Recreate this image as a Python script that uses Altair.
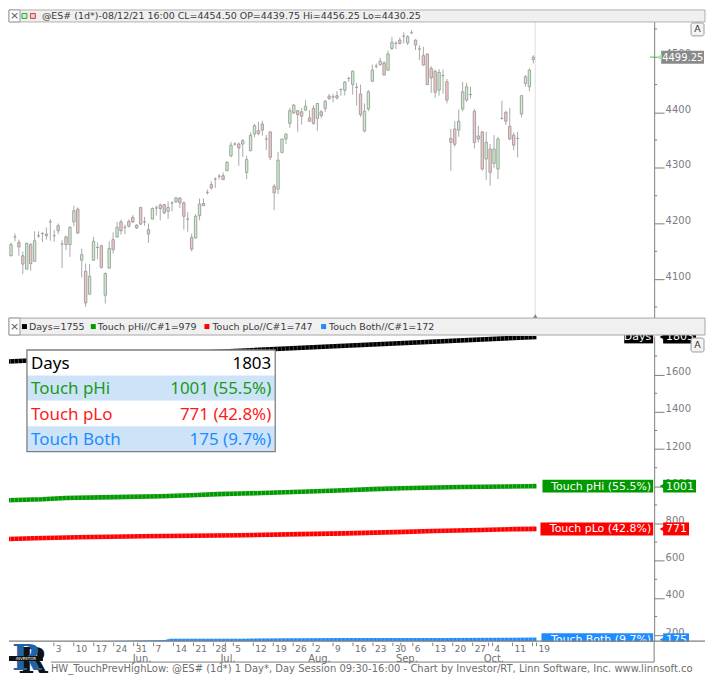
import altair as alt
import pandas as pd

FONT = "DejaVu Sans"

# ---------------- price candles (weekday index 0 = 2021-04-14 ... 134 = 2021-10-19) ----------------
opens = [4132, 4142, 4176, 4166, 4142, 4118, 4162, 4132, 4178, 4182,
         4181, 4203, 4178, 4196, 4163, 4176, 4162, 4203, 4226, 4134,
         4114, 4073, 4134, 4157, 4160, 4071, 4120, 4171, 4176, 4203,
         4193, 4204, 4211, 4197, 4229, 4203, 4189, 4208, 4228, 4233,
         4234, 4222, 4237, 4239, 4246, 4237, 4208, 4175, 4174, 4214,
         4236, 4256, 4270, 4280, 4285, 4286, 4295, 4322, 4343, 4343,
         4343, 4292, 4331, 4361, 4367, 4379, 4352, 4365, 4267, 4262,
         4328, 4352, 4380, 4399, 4403, 4401, 4404, 4390, 4407, 4389,
         4401, 4407, 4429, 4428, 4430, 4441, 4439.75, 4461, 4450, 4445,
         4433, 4366.5, 4406, 4456, 4483, 4486, 4489, 4476, 4515, 4524,
         4530, 4537, 4525, 4543, 4530, 4514, 4502, 4505, 4479, 4474,
         4440, 4466, 4455, 4353, 4370, 4368, 4406, 4422, 4432, 4402,
         4357.5, 4365, 4316, 4334, 4308, 4298, 4389, 4400, 4375, 4359,
         4353, 4397, 4452, 4446, 4495]
highs = [4142, 4166, 4182, 4171, 4150, 4166, 4165, 4186, 4186, 4185,
         4193, 4208, 4188, 4200, 4170, 4178, 4195, 4232, 4229, 4155,
         4128, 4127, 4176, 4166, 4162, 4112, 4168, 4184, 4203, 4207,
         4198, 4207, 4215, 4199, 4229, 4212, 4200, 4229, 4232, 4236,
         4235, 4240, 4240, 4248, 4247, 4240, 4221, 4182, 4217, 4245,
         4245, 4261, 4276, 4283, 4289, 4292, 4312, 4347, 4346, 4346,
         4352, 4322, 4364, 4379, 4383, 4385, 4359, 4365, 4271, 4329,
         4352, 4362, 4408, 4415, 4404, 4408, 4422, 4404, 4413, 4417,
         4404, 4422, 4433, 4433, 4438, 4443, 4456.25, 4464, 4475, 4453,
         4450, 4416, 4440, 4486, 4488, 4498, 4492, 4511, 4536, 4528,
         4535, 4544, 4539, 4548, 4531.5, 4521, 4518, 4506, 4483, 4477,
         4478, 4477, 4460, 4370, 4384, 4405, 4455, 4453, 4446, 4406,
         4376, 4365, 4365, 4343, 4359, 4356, 4421, 4403, 4408, 4364,
         4365, 4431, 4467, 4479, 4503]
lows = [4113, 4141, 4168, 4142, 4109, 4117, 4115, 4131, 4174, 4167,
        4171, 4169, 4167, 4181, 4120, 4152, 4140, 4195, 4181, 4103,
        4050, 4072, 4133, 4136, 4119, 4056, 4118, 4146, 4174, 4180,
        4181, 4193, 4201, 4190, 4197, 4196, 4165, 4208, 4214, 4206,
        4217, 4208, 4222, 4237, 4228, 4189, 4185, 4150, 4173, 4206,
        4232, 4252, 4261, 4264, 4279, 4279, 4295, 4319, 4340, 4304,
        4320, 4280, 4330, 4355, 4359, 4358, 4332, 4314, 4224, 4253,
        4326, 4343, 4372, 4397, 4365, 4378, 4403, 4383, 4378, 4367,
        4390, 4401, 4422, 4418, 4423, 4430, 4430.25, 4455, 4432, 4412,
        4392, 4364, 4402, 4455, 4479, 4484, 4466, 4475, 4512, 4514,
        4522, 4524, 4521, 4542, 4512, 4494, 4484, 4449, 4435, 4426,
        4430, 4434, 4416, 4295, 4338, 4356, 4402, 4419, 4425, 4335,
        4346, 4295, 4278.5, 4268, 4300, 4280, 4387, 4377, 4350, 4332,
        4319, 4391, 4446, 4438, 4488]
closes = [4120, 4162, 4176, 4158, 4127, 4164, 4128, 4169, 4178, 4182,
          4178, 4203, 4178, 4187, 4163, 4162, 4193, 4223, 4183, 4144,
          4057, 4105, 4168, 4157, 4121, 4110, 4155, 4153, 4193, 4187,
          4193, 4195, 4203, 4192, 4199, 4203, 4181, 4227, 4228, 4227,
          4219, 4229, 4237, 4246, 4237, 4213, 4208, 4154, 4213, 4235,
          4232, 4256, 4264, 4280, 4285, 4279, 4310, 4341, 4343, 4336,
          4349, 4315, 4359, 4376, 4362, 4368, 4352, 4319, 4255, 4314,
          4352, 4361, 4403, 4413, 4396, 4393, 4411, 4384, 4380, 4416,
          4394, 4420, 4425, 4428, 4426, 4441, 4454.5, 4461, 4474, 4445,
          4396, 4402, 4437, 4476, 4483, 4492, 4467, 4505, 4526, 4524,
          4524, 4537, 4536, 4543, 4521, 4514, 4485, 4450, 4462, 4436,
          4472, 4466, 4422, 4346, 4342.5, 4384, 4437, 4446, 4432, 4346,
          4352, 4298, 4346, 4292, 4334, 4352, 4389, 4384, 4352, 4341,
          4353, 4430, 4464, 4476, 4499.25]

# ---------------- cumulative counters of the lower pane (read at sample days) ----------------
days_idx = [0, 45, 86, 134]
days_val = [1669, 1714, 1755, 1803]
phi_idx = [0, 10, 16, 28, 40, 49, 54, 60, 75, 86, 93, 100, 115, 132, 134]
phi_val = [924, 930, 937, 942, 947, 953, 958, 961, 971, 979, 985, 990, 996, 1000, 1001]
plo_idx = [0, 8, 19, 35, 60, 75, 86, 101, 108, 120, 129, 134]
plo_val = [716, 721, 726, 732, 737, 743, 747, 755, 760, 765, 770, 771]
both_idx = [0, 30, 41, 42, 60, 86, 110, 128, 134]
both_val = [150, 158, 161, 168, 169, 172, 173, 174, 175]

series_names = ["Days", "Touch pHi", "Touch pLo", "Touch Both"]
series_colors = ["#000000", "#009a00", "#ff0000", "#1e8cff"]
table_colors = ["#000000", "#1a9a1a", "#ff1a1a", "#1e8cff"]

# ---------------- axes / labels ----------------
price_ticks = [4100, 4200, 4300, 4400, 4500]
price_minor = [4050, 4150, 4250, 4350, 4450, 4550]
count_ticks = [200, 400, 600, 800, 1000, 1200, 1400, 1600]
count_minor = [300, 500, 700, 900, 1100, 1300, 1500, 1700]
last_price = [4499.25]
cursor_idx = [134.5]

tick_idx = [13, 18, 23, 28, 33, 34, 38, 43, 48, 53, 56, 58, 63, 68, 73, 78, 83, 88, 93, 98,
            100, 103, 108, 113, 118, 122, 123, 128, 133, 134]
day_idx = [13, 18, 23, 28, 33, 38, 43, 48, 53, 58, 63, 68, 73, 78, 83, 88, 93, 98, 103, 108,
           113, 118, 123, 128, 134]
day_lbl = ["3", "10", "17", "24", "31", "7", "14", "21", "28", "5", "12", "19", "26", "2", "9",
           "16", "23", "30", "6", "13", "20", "27", "4", "11", "19"]
month_idx = [34, 56, 78, 100, 122]
month_lbl = ["Jun.", "Jul.", "Aug.", "Sep.", "Oct."]

header_top = "@ES# (1d*)-08/12/21 16:00 CL=4454.50 OP=4439.75 Hi=4456.25 Lo=4430.25"
legend_txt = ["Days=1755", "Touch pHi//C#1=979", "Touch pLo//C#1=747", "Touch Both//C#1=172"]
footer_txt = ("HW_TouchPrevHighLow: @ES# (1d*) 1 Day*, Day Session 09:30-16:00 - Chart by "
              "Investor/RT, Linn Software, Inc. www.linnsoft.com - 10/19/2021")

# ---------------- layout ----------------
W, HT, HB = 647, 310, 306
one = pd.DataFrame({"z": [0]})

xs = alt.Scale(domain=[1.75, 163.5], nice=False, zero=False)
X = alt.X("i:Q", scale=xs, axis=None)


def rect(x0, x1, y0, y1, **kw):
    return alt.Chart(one).mark_rect(**kw).encode(
        x=alt.value(x0), x2=alt.value(x1), y=alt.value(y0), y2=alt.value(y1))


def label(x, y, text, **kw):
    kw.setdefault("font", FONT)
    kw.setdefault("baseline", "middle")
    return alt.Chart(one).mark_text(**kw).encode(
        x=alt.value(x), y=alt.value(y), text=alt.value(text))


def hline(x0, x1, y, color="#7f7f7f", w=1):
    return alt.Chart(one).mark_rule(color=color, strokeWidth=w).encode(
        x=alt.value(x0), x2=alt.value(x1), y=alt.value(y))


def vline(x, y0, y1, color="#7f7f7f", w=1):
    return alt.Chart(one).mark_rule(color=color, strokeWidth=w).encode(
        x=alt.value(x), y=alt.value(y0), y2=alt.value(y1))


def right_axis(vals):
    return alt.Axis(orient="right", values=vals, format="d", tickSize=10, labelPadding=1,
                    labelBaseline="alphabetic", labelFont=FONT, labelFontSize=10,
                    labelColor="#7b7b86", domainColor="#7f7f7f", tickColor="#7f7f7f",
                    grid=False, title=None, labelOverlap=False, labelFlush=False, zindex=0)


# ================= TOP PANE =================
ys_top = alt.Scale(domain=[4028.1, 4584.2], nice=False, zero=False)
ax_top = right_axis(price_ticks)


def YT(f):
    return alt.Y(f, scale=ys_top, axis=ax_top)


cdf = pd.DataFrame({"i": list(range(len(opens))), "o": opens, "h": highs, "l": lows, "c": closes})
cdf["dir"] = ["up" if c >= o else "down" for o, c in zip(opens, closes)]

top_layers = [
    alt.Chart(pd.DataFrame({"i": cursor_idx})).mark_rule(color="#e9e9e9", strokeWidth=1.5).encode(x=X),
    alt.Chart(cdf).mark_rule(color="#a9a9a9", strokeWidth=1, clip=True).encode(
        x=X, y=YT("l:Q"), y2="h:Q"),
    alt.Chart(cdf).mark_bar(size=2.4, stroke="#9c9c9c", strokeWidth=0.9, clip=True).encode(
        x=X, y=YT("o:Q"), y2="c:Q",
        color=alt.Color("dir:N", scale=alt.Scale(domain=["up", "down"], range=["#c6f2c6", "#f4c6c6"]),
                        legend=None)),
    alt.Chart(pd.DataFrame({"p": price_minor})).mark_rule(color="#7f7f7f").encode(
        x=alt.value(W), x2=alt.value(W + 3), y=YT("p:Q")),
    alt.Chart(pd.DataFrame({"i": cursor_idx})).mark_point(
        shape="triangle-up", filled=True, size=32, color="#7f7f7f", opacity=1).encode(
        x=X, y=alt.value(307.5)),
]
lp = pd.DataFrame({"p": last_price, "t": ["%.2f" % v for v in last_price]})
top_layers += [
    alt.Chart(lp).mark_rule(color="#7cd87c", strokeWidth=1.5).encode(
        x=alt.value(W - 4), x2=alt.value(W), y=YT("p:Q")),
    alt.Chart(lp).mark_rect(color="#8a8a8a", yOffset=-6.5, y2Offset=6.5).encode(
        x=alt.value(W + 7), x2=alt.value(W + 50), y=YT("p:Q"), y2="p:Q"),
    alt.Chart(lp).mark_point(shape="triangle-left", filled=True, size=36, color="#a3eaa3",
                             opacity=1).encode(x=alt.value(W + 5), y=YT("p:Q")),
    alt.Chart(lp).mark_text(align="left", baseline="middle", font=FONT, fontSize=10,
                            color="white", dy=0.5).encode(
        x=alt.value(W + 8), y=YT("p:Q"), text="t:N"),
    # header bar
    rect(0, 698, 0, 12, color="#f0f0f0", stroke="#b0b0b0", strokeWidth=1),
    rect(0, 11, 0, 12, color="white", stroke="#9a9a9a", strokeWidth=1),
    label(5.5, 6, "×", align="center", fontSize=11, color="#555555"),
    rect(13, 18, 3.5, 8.5, color="#c6f2c6", stroke="#3e9e3e", strokeWidth=1),
    rect(21.5, 26.5, 3.5, 8.5, color="#f4c6c6", stroke="#c04646", strokeWidth=1),
    label(33, 6.5, header_top, align="left", fontSize=9.5, color="#3a3a3a"),
    # "A" button
    rect(W + 37, W + 50, 13, 26, color="#f4f4f4", stroke="#9a9a9a", strokeWidth=1, cornerRadius=2),
    label(W + 43.5, 19.5, "A", align="center", fontSize=9.5, color="#333333"),
]
top = alt.layer(*top_layers).properties(width=W, height=HT)

# ================= LOWER PANE =================
ys_bot = alt.Scale(domain=[167.8, 1807.7], nice=False, zero=False)
ax_bot = right_axis(count_ticks)


def YB(f):
    return alt.Y(f, scale=ys_bot, axis=ax_bot)


series_data = list(zip(series_names, [days_idx, phi_idx, plo_idx, both_idx],
                       [days_val, phi_val, plo_val, both_val], series_colors))

bot_layers = []
for name, idxs, vals, col in series_data:
    sdf = pd.DataFrame({"i": idxs, "v": vals})
    bot_layers.append(
        alt.Chart(sdf).mark_line(strokeWidth=4.6, color=col, clip=True).encode(x=X, y=YB("v:Q")))
    bot_layers.append(
        alt.Chart(sdf).mark_line(strokeWidth=4.6, color="white", opacity=0.35,
                                 strokeDash=[0.8, 3.2], clip=True).encode(x=X, y=YB("v:Q")))
bot_layers.append(
    alt.Chart(pd.DataFrame({"v": count_minor})).mark_rule(color="#7f7f7f").encode(
        x=alt.value(W), x2=alt.value(W + 3), y=YB("v:Q")))

finals = [days_val[-1], phi_val[-1], plo_val[-1], both_val[-1]]
total = days_val[-1]
pcts = [v / total * 100 for v in finals]
name_lbls = ["Days"] + ["%s (%.1f%%)" % (n, p) for n, p in zip(series_names[1:], pcts[1:])]
table_vals = [str(finals[0])] + ["%d (%.1f%%)" % (v, p) for v, p in zip(finals[1:], pcts[1:])]

name_x0 = [W - 30, W - 112, W - 114, W - 113]
val_w = [33, 33, 26, 26]
for k in range(4):
    d = pd.DataFrame({"v": [finals[k]], "name": [name_lbls[k]], "val": [str(finals[k])]})
    c = series_colors[k]
    b = alt.Chart(d)
    bot_layers += [
        b.mark_rect(color=c, yOffset=-6.5, y2Offset=6.5).encode(
            x=alt.value(name_x0[k]), x2=alt.value(W - 1), y=YB("v:Q"), y2="v:Q"),
        b.mark_text(align="right", baseline="middle", font=FONT, fontSize=11, color="white",
                    dy=0.5).encode(x=alt.value(W - 3), y=YB("v:Q"), text="name:N"),
        b.mark_point(shape="triangle-left", filled=True, size=49, color=c, opacity=1).encode(
            x=alt.value(W + 8.5), y=YB("v:Q")),
        b.mark_rect(color=c, yOffset=-6.5, y2Offset=6.5).encode(
            x=alt.value(W + 9), x2=alt.value(W + 9 + val_w[k]), y=YB("v:Q"), y2="v:Q"),
        b.mark_text(align="left", baseline="middle", font=FONT, fontSize=11, color="white",
                    dy=0.5).encode(x=alt.value(W + 12), y=YB("v:Q"), text="val:N"),
    ]

# header bar of lower pane
bot_layers += [
    rect(0, 698, -18, -1, color="#f0f0f0", stroke="#a8a8a8", strokeWidth=1),
    rect(0, 11, -18, -1, color="white", stroke="#9a9a9a", strokeWidth=1),
    label(5.5, -9.5, "×", align="center", fontSize=11, color="#555555"),
]
leg_sq_x = [13, 82, 196, 313]
leg_tx_x = [20, 89, 204, 321]
for k in range(4):
    bot_layers += [
        rect(leg_sq_x[k], leg_sq_x[k] + 5, -12, -7, color=series_colors[k]),
        label(leg_tx_x[k], -9.5, legend_txt[k], align="left", fontSize=9.5, color="#3a3a3a"),
    ]
bot_layers += [
    rect(W + 37, W + 50, 2, 16, color="#f4f4f4", stroke="#9a9a9a", strokeWidth=1, cornerRadius=2),
    label(W + 43.5, 9, "A", align="center", fontSize=9.5, color="#333333"),
]

# summary table
row_bg = ["#ffffff", "#cde4f8", "#ffffff", "#cde4f8"]
tab_y0, row_h = 14, 25.5
for k in range(4):
    y0 = tab_y0 + row_h * k
    bot_layers += [
        rect(18, 267, y0, y0 + row_h, color=row_bg[k]),
        label(22, y0 + row_h / 2 + 1, series_names[k], align="left", font="Noto Sans",
              fontSize=17, color=table_colors[k]),
        label(263, y0 + row_h / 2 + 1, table_vals[k], align="right", font="Noto Sans",
              fontSize=17, color=table_colors[k]),
    ]
bot_layers.append(alt.Chart(one).mark_rect(fillOpacity=0, stroke="#7f7f7f", strokeWidth=1.3).encode(
    x=alt.value(18), x2=alt.value(267), y=alt.value(tab_y0), y2=alt.value(tab_y0 + 4 * row_h)))

# date axis area
bot_layers += [
    rect(0, 698, HB + 0.5, 330, color="white"),
    hline(0, 698, HB, "#7f7f7f", 1.2),
    vline(W, HB, 327),
    hline(42, W, 327),
    alt.Chart(pd.DataFrame({"i": tick_idx})).mark_rule(color="#7f7f7f").encode(
        x=X, y=alt.value(HB + 1.5), y2=alt.value(HB + 5)),
    alt.Chart(pd.DataFrame({"i": day_idx, "t": day_lbl})).mark_text(
        align="left", baseline="middle", font=FONT, fontSize=9, color="#707070", dx=2).encode(
        x=X, y=alt.value(HB + 7.5), text="t:N"),
    alt.Chart(pd.DataFrame({"i": month_idx, "t": month_lbl})).mark_text(
        align="left", baseline="middle", font=FONT, fontSize=10, color="#707070", dx=-5).encode(
        x=X, y=alt.value(HB + 18), text="t:N"),
    label(42, 334, footer_txt, align="left", fontSize=10, color="#6e6e6e", limit=655, ellipsis=" "),
    # logo
    label(9, 338, "R", align="left", baseline="alphabetic", font="DejaVu Serif", fontSize=36,
          fontWeight="bold", color="#111111"),
    label(3, 335, "R", align="left", baseline="alphabetic", font="DejaVu Serif", fontSize=36,
          fontWeight="bold", color="#1f63a8"),
    rect(0, 34, 321, 326, color="#111111"),
    label(17, 323.5, "INVESTOR", align="center", fontSize=4, color="white"),
]
bottom = alt.layer(*bot_layers).properties(width=W, height=HB)

chart = alt.vconcat(top, bottom, spacing=17, bounds="flush").properties(
    padding=0, background="white").configure_view(strokeWidth=0)

chart.save("out.html", embed_options={"renderer": "svg", "actions": False})
